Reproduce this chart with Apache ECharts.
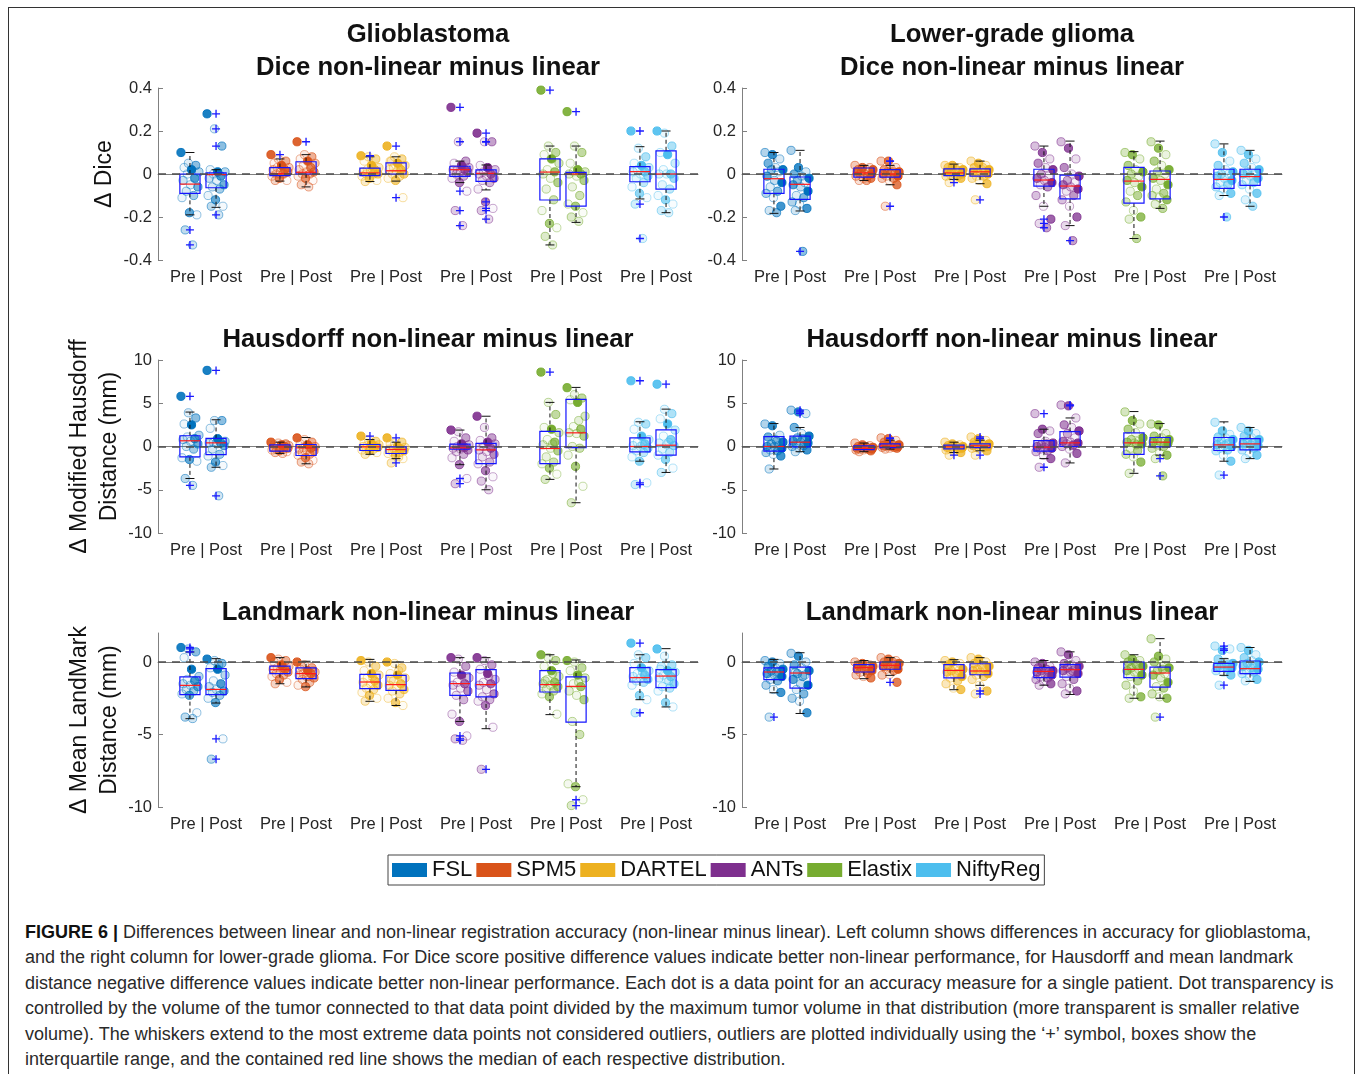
<!DOCTYPE html>
<html>
<head>
<meta charset="utf-8">
<title>Non-linear minus linear registration accuracy</title>
<script src="https://cdn.jsdelivr.net/npm/echarts@6/dist/echarts.min.js"></script>
<style>
html, body { margin: 0; padding: 0; background: #fff; overflow: hidden; }
#frame { position: absolute; left: 8px; top: 7px; width: 1347px; height: 1120px; border: 1px solid #333; box-sizing: border-box; }
#chart { position: absolute; left: 0; top: 0; width: 1357px; height: 900px; }
#caption { position: absolute; left: 25px; top: 920px; font-family: 'Liberation Sans', Arial, sans-serif; font-size: 18px; line-height: 25.4px; color: #2a2a2a; white-space: nowrap; }
#caption b { color: #111; }
</style>
</head>
<body>
<div id="frame"></div>
<div id="chart"></div>
<div id="caption">
<b>FIGURE 6 |</b> Differences between linear and non-linear registration accuracy (non-linear minus linear). Left column shows differences in accuracy for glioblastoma,<br>
and the right column for lower-grade glioma. For Dice score positive difference values indicate better non-linear performance, for Hausdorff and mean landmark<br>
distance negative difference values indicate better non-linear performance. Each dot is a data point for an accuracy measure for a single patient. Dot transparency is<br>
controlled by the volume of the tumor connected to that data point divided by the maximum tumor volume in that distribution (more transparent is smaller relative<br>
volume). The whiskers extend to the most extreme data points not considered outliers, outliers are plotted individually using the ‘+’ symbol, boxes show the<br>
interquartile range, and the contained red line shows the median of each respective distribution.
</div>
<script>
const methods = ['FSL', 'SPM5', 'DARTEL', 'ANTs', 'Elastix', 'NiftyReg']
const methodColors = ['#0072BD', '#D95319', '#EDB120', '#7E2F8E', '#77AC30', '#4DBEEE']
const groupLabels = ['Pre | Post', 'Pre | Post', 'Pre | Post', 'Pre | Post', 'Pre | Post', 'Pre | Post']

// relative tumour volume per patient (controls dot transparency)
const gbmVolume = [0.9, 0.12, 0.45, 0.06, 1.0, 0.28, 0.05, 0.7, 0.2, 0.1, 0.55, 0.15, 0.35, 0.08, 0.62, 0.04, 0.25, 0.18]
const lggVolume = [0.3, 0.8, 0.15, 0.55, 0.1, 0.95, 0.4, 0.07, 0.65, 0.22, 1.0, 0.12, 0.5, 0.3, 0.05, 0.75, 0.18, 0.45]

// box stats [lower whisker, q1, median, q3, upper whisker], rows: FSL pre, FSL post, SPM5 pre, ...
const gbmDiceBox = [
  [-0.19, -0.09, -0.047, 0.0, 0.1], [-0.155, -0.064, -0.003, 0.005, 0.02],
  [-0.033, -0.008, 0.002, 0.03, 0.07], [-0.06, 0.0, 0.008, 0.057, 0.09],
  [-0.035, -0.008, 0.005, 0.027, 0.08], [-0.033, 0.0, 0.015, 0.052, 0.08],
  [-0.04, -0.011, 0.02, 0.036, 0.06], [-0.074, -0.034, 0.003, 0.019, 0.042],
  [-0.33, -0.121, 0.009, 0.07, 0.13], [-0.225, -0.149, 0.0, 0.008, 0.13],
  [-0.116, -0.036, 0.011, 0.034, 0.127], [-0.18, -0.07, 0.0, 0.108, 0.2]
]
const gbmDicePts = [
  [0.1, 0.05, 0.04, 0.03, 0.02, 0.01, 0.0, -0.02, -0.03, -0.05, -0.06, -0.08, -0.1, -0.11, -0.18, -0.19, -0.26, -0.33],
  [0.28, 0.21, 0.13, 0.02, 0.01, 0.01, 0.0, -0.01, -0.02, -0.03, -0.05, -0.06, -0.07, -0.1, -0.12, -0.15, -0.15, -0.19],
  [0.09, 0.07, 0.06, 0.05, 0.04, 0.03, 0.03, 0.02, 0.02, 0.01, 0.01, 0.0, 0.0, -0.01, -0.02, -0.03, -0.03, 0.0],
  [0.15, 0.09, 0.08, 0.07, 0.06, 0.05, 0.04, 0.03, 0.02, 0.01, 0.01, 0.0, 0.0, -0.01, -0.02, -0.03, -0.05, -0.06],
  [0.085, 0.08, 0.07, 0.06, 0.04, 0.03, 0.02, 0.02, 0.01, 0.01, 0.0, 0.0, 0.0, -0.01, -0.02, -0.03, -0.035, 0.02],
  [0.13, 0.08, 0.07, 0.06, 0.05, 0.04, 0.03, 0.02, 0.02, 0.01, 0.0, 0.0, -0.01, -0.02, -0.03, -0.11, 0.06, 0.03],
  [0.31, 0.15, 0.06, 0.05, 0.04, 0.03, 0.02, 0.02, 0.02, 0.01, 0.01, 0.0, -0.01, -0.02, -0.04, -0.08, -0.17, -0.24],
  [0.19, 0.15, 0.15, 0.04, 0.03, 0.02, 0.01, 0.0, 0.0, -0.01, -0.02, -0.03, -0.04, -0.07, -0.13, -0.16, -0.17, -0.21],
  [0.39, 0.13, 0.1, 0.09, 0.07, 0.05, 0.02, 0.01, 0.0, -0.02, -0.04, -0.07, -0.12, -0.17, -0.23, -0.25, -0.29, -0.33],
  [0.29, 0.13, 0.1, 0.05, 0.02, 0.01, 0.01, 0.0, 0.0, -0.01, -0.03, -0.06, -0.1, -0.14, -0.15, -0.18, -0.2, -0.22],
  [0.2, 0.12, 0.08, 0.05, 0.04, 0.03, 0.02, 0.01, 0.01, 0.0, -0.01, -0.02, -0.04, -0.06, -0.09, -0.11, -0.14, -0.3],
  [0.2, 0.19, 0.13, 0.1, 0.09, 0.05, 0.02, 0.0, 0.0, 0.0, -0.02, -0.05, -0.07, -0.1, -0.12, -0.14, -0.17, -0.18]
]

const lggDiceBox = [
  [-0.183, -0.09, -0.022, 0.022, 0.1], [-0.172, -0.118, -0.048, -0.014, 0.11],
  [-0.03, -0.015, 0.005, 0.028, 0.04], [-0.05, -0.015, 0.0, 0.02, 0.04],
  [-0.025, -0.008, 0.005, 0.024, 0.046], [-0.045, -0.01, 0.01, 0.024, 0.06],
  [-0.15, -0.056, -0.028, 0.022, 0.13], [-0.24, -0.116, -0.056, -0.005, 0.153],
  [-0.3, -0.135, -0.033, 0.031, 0.104], [-0.16, -0.116, -0.025, 0.014, 0.153],
  [-0.1, -0.067, -0.025, 0.022, 0.14], [-0.15, -0.053, -0.012, 0.022, 0.11]
]
const lggDicePts = [
  [0.1, 0.09, 0.07, 0.05, 0.03, 0.02, 0.02, 0.01, -0.01, -0.03, -0.04, -0.06, -0.08, -0.09, -0.11, -0.15, -0.17, -0.18],
  [0.11, 0.03, 0.01, 0.0, -0.01, -0.02, -0.03, -0.04, -0.05, -0.06, -0.08, -0.1, -0.11, -0.13, -0.14, -0.16, -0.17, -0.36],
  [0.04, 0.03, 0.03, 0.02, 0.02, 0.02, 0.01, 0.01, 0.01, 0.0, 0.0, 0.0, -0.01, -0.01, -0.02, -0.02, -0.03, -0.03],
  [0.06, 0.06, 0.03, 0.02, 0.02, 0.01, 0.01, 0.0, 0.0, 0.0, -0.01, -0.01, -0.02, -0.02, -0.03, -0.05, -0.15, 0.01],
  [0.04, 0.04, 0.03, 0.03, 0.02, 0.02, 0.01, 0.01, 0.01, 0.0, 0.0, 0.0, -0.01, -0.01, -0.02, -0.02, -0.04, 0.02],
  [0.06, 0.05, 0.04, 0.03, 0.02, 0.02, 0.01, 0.01, 0.01, 0.0, 0.0, -0.01, -0.01, -0.02, -0.03, -0.045, -0.12, 0.03],
  [0.13, 0.1, 0.07, 0.05, 0.03, 0.02, 0.0, -0.01, -0.02, -0.03, -0.04, -0.05, -0.06, -0.1, -0.15, -0.21, -0.23, -0.25],
  [0.15, 0.12, 0.07, 0.03, 0.0, -0.01, -0.03, -0.04, -0.05, -0.06, -0.07, -0.08, -0.1, -0.12, -0.15, -0.2, -0.24, -0.31],
  [0.1, 0.09, 0.07, 0.04, 0.02, 0.01, 0.0, -0.01, -0.03, -0.04, -0.06, -0.08, -0.1, -0.13, -0.17, -0.2, -0.21, -0.3],
  [0.15, 0.12, 0.09, 0.06, 0.04, 0.02, 0.01, 0.0, -0.02, -0.03, -0.05, -0.07, -0.09, -0.1, -0.11, -0.12, -0.14, -0.16],
  [0.14, 0.1, 0.06, 0.04, 0.02, 0.01, 0.0, 0.0, -0.01, -0.02, -0.03, -0.04, -0.05, -0.06, -0.07, -0.09, -0.1, -0.2],
  [0.11, 0.09, 0.07, 0.05, 0.03, 0.02, 0.01, 0.0, 0.0, -0.01, -0.02, -0.03, -0.04, -0.05, -0.07, -0.09, -0.12, -0.15]
]

const gbmHausBox = [
  [-3.7, -1.2, 0.66, 1.24, 3.98], [-2.4, -0.93, 0.42, 0.93, 3.09],
  [-0.8, -0.54, -0.04, 0.19, 0.5], [-2.0, -1.04, -0.15, 0.23, 1.04],
  [-0.9, -0.46, -0.04, 0.23, 0.8], [-1.4, -0.81, -0.35, -0.04, 0.5],
  [-2.1, -0.31, -0.15, 0.27, 1.9], [-5.0, -1.97, -0.39, 0.35, 3.5],
  [-3.8, -1.97, -0.23, 1.74, 5.1], [-6.5, -0.12, 1.58, 5.44, 6.83],
  [-1.7, -0.62, 0.0, 1.0, 2.86], [-3.0, -1.0, 0.15, 1.93, 4.32]
]
const gbmHausPts = [
  [5.8, 3.9, 3.3, 2.6, 2.5, 1.3, 1.1, 0.9, 0.8, 0.6, 0.3, 0.0, -0.3, -1.3, -1.5, -1.7, -3.7, -4.5],
  [8.8, 3.0, 3.0, 2.1, 0.9, 0.6, 0.5, 0.4, 0.4, 0.3, 0.1, -0.3, -0.9, -1.1, -1.8, -2.2, -2.4, -5.7],
  [0.5, 0.4, 0.3, 0.2, 0.2, 0.1, 0.0, 0.0, -0.1, -0.1, -0.2, -0.3, -0.3, -0.4, -0.5, -0.6, -0.7, -0.8],
  [1.0, 0.8, 0.5, 0.3, 0.2, 0.0, -0.1, -0.2, -0.3, -0.4, -0.5, -0.7, -0.9, -1.0, -1.3, -1.6, -1.8, -2.0],
  [1.2, 0.8, 0.6, 0.4, 0.3, 0.2, 0.1, 0.0, 0.0, -0.1, -0.1, -0.2, -0.3, -0.4, -0.5, -0.7, -0.9, 0.1],
  [1.0, 0.4, 0.5, 0.3, 0.0, -0.1, -0.2, -0.3, -0.3, -0.4, -0.5, -0.6, -0.7, -0.8, -1.0, -1.4, -1.9, -1.2],
  [1.9, 1.7, 1.0, 0.6, 0.3, 0.2, 0.0, -0.1, -0.2, -0.3, -0.4, -0.6, -0.9, -1.3, -2.1, -3.7, -4.3, -0.1],
  [3.5, 2.2, 1.0, 0.7, 0.5, 0.3, 0.0, -0.2, -0.4, -0.6, -0.9, -1.2, -1.8, -2.0, -2.8, -3.5, -4.0, -5.0],
  [8.6, 5.1, 3.7, 2.2, 2.0, 1.6, 0.8, 0.5, 0.2, -0.2, -0.5, -1.2, -1.8, -2.0, -2.5, -3.2, -3.8, 0.3],
  [6.8, 6.0, 5.6, 5.4, 5.1, 3.5, 2.3, 2.0, 1.6, 1.5, 1.2, 0.0, -0.2, -1.0, -2.3, -4.6, -6.5, 3.0],
  [7.6, 2.8, 2.6, 2.0, 1.2, 0.8, 0.5, 0.3, 0.1, 0.0, -0.2, -0.5, -0.7, -1.2, -1.7, -4.2, -4.4, 0.2],
  [7.2, 4.3, 3.8, 3.2, 2.6, 1.9, 1.2, 0.8, 0.4, 0.2, 0.1, -0.3, -0.7, -1.0, -1.5, -2.5, -3.0, 0.5]
]

const lggHausBox = [
  [-2.6, -0.54, 0.0, 1.15, 2.65], [-0.6, -0.04, 0.5, 1.19, 2.2],
  [-0.6, -0.35, -0.2, 0.08, 0.4], [-0.3, -0.12, 0.04, 0.3, 0.73],
  [-0.7, -0.27, -0.04, 0.15, 0.5], [-0.5, -0.12, 0.08, 0.31, 0.73],
  [-1.4, -0.54, -0.08, 0.69, 2.0], [-1.9, 0.0, 0.42, 1.73, 3.3],
  [-3.1, -0.92, 0.42, 1.58, 4.04], [-1.0, -0.04, 0.5, 1.04, 2.65],
  [-1.7, -0.46, 0.19, 1.04, 2.85], [-1.4, -0.38, 0.3, 0.92, 2.2]
]
const lggHausPts = [
  [2.6, 2.4, 1.3, 1.1, 0.8, 0.5, 0.3, 0.1, 0.0, 0.0, -0.2, -0.4, -0.5, -0.7, -0.9, -1.1, -2.6, 0.6],
  [4.2, 4.0, 3.8, 2.2, 1.5, 1.2, 1.0, 0.8, 0.6, 0.5, 0.4, 0.3, 0.1, 0.0, -0.2, -0.4, -0.6, 0.9],
  [0.4, 0.2, 0.1, 0.0, 0.0, -0.1, -0.1, -0.2, -0.2, -0.2, -0.3, -0.3, -0.3, -0.4, -0.4, -0.5, -0.6, -0.1],
  [1.0, 0.9, 0.7, 0.5, 0.3, 0.2, 0.2, 0.1, 0.1, 0.0, 0.0, 0.0, -0.1, -0.1, -0.2, -0.2, -0.3, 0.1],
  [0.5, 0.3, 0.2, 0.1, 0.1, 0.0, 0.0, -0.1, -0.1, -0.2, -0.2, -0.3, -0.3, -0.4, -0.5, -0.7, -1.0, 0.0],
  [1.1, 0.9, 0.7, 0.5, 0.4, 0.3, 0.2, 0.1, 0.1, 0.0, 0.0, -0.1, -0.1, -0.2, -0.3, -0.5, -1.0, 0.2],
  [3.8, 2.0, 1.8, 1.5, 0.6, 0.4, 0.2, 0.1, 0.0, -0.1, -0.2, -0.3, -0.5, -0.6, -1.0, -1.4, -2.4, 0.3],
  [4.8, 4.7, 3.3, 2.5, 2.2, 1.8, 1.5, 1.0, 0.6, 0.5, 0.4, 0.3, 0.2, 0.0, -0.3, -0.8, -1.9, 0.1],
  [4.0, 3.0, 2.6, 2.0, 1.6, 1.0, 0.8, 0.6, 0.5, 0.4, 0.3, -0.2, -0.5, -0.9, -1.2, -1.8, -3.1, 0.2],
  [2.6, 2.5, 1.5, 1.2, 1.0, 0.8, 0.7, 0.6, 0.5, 0.5, 0.4, 0.2, 0.0, -0.2, -0.8, -1.0, -1.4, -3.4],
  [2.8, 1.8, 1.4, 1.1, 1.0, 0.8, 0.6, 0.4, 0.2, 0.1, 0.0, -0.2, -0.4, -0.5, -1.0, -1.7, -3.3, 0.3],
  [2.2, 1.8, 1.5, 1.2, 1.0, 0.8, 0.6, 0.5, 0.3, 0.2, 0.1, 0.0, -0.2, -0.4, -0.8, -1.0, -1.4, 0.4]
]

const gbmLandBox = [
  [-3.91, -2.25, -1.61, -1.03, 0.69], [-2.83, -2.25, -1.89, -0.46, 0.23],
  [-1.5, -0.8, -0.53, -0.28, 0.3], [-1.72, -1.15, -0.8, -0.41, 0.05],
  [-2.71, -1.84, -1.38, -0.85, 0.18], [-3.0, -1.95, -1.56, -0.92, 0.0],
  [-4.1, -2.3, -1.49, -0.76, 0.3], [-4.6, -2.41, -1.56, -0.53, 0.3],
  [-3.63, -2.07, -1.56, -0.6, 0.5], [-8.6, -4.14, -1.68, -1.03, 0.14],
  [-2.6, -1.38, -1.08, -0.39, 0.5], [-3.1, -1.77, -0.97, -0.53, 0.92]
]
const gbmLandPts = [
  [1.0, 0.9, 0.7, 0.3, -0.5, -1.0, -1.2, -1.3, -1.5, -1.6, -1.7, -1.9, -2.0, -2.2, -2.3, -3.5, -3.8, -3.9],
  [0.2, 0.1, -0.1, -0.4, -0.5, -0.9, -1.3, -1.5, -1.7, -1.9, -2.0, -2.1, -2.3, -2.5, -2.8, -5.3, -6.7, -0.2],
  [0.3, 0.2, 0.1, 0.0, -0.2, -0.3, -0.4, -0.5, -0.5, -0.6, -0.7, -0.8, -0.9, -1.0, -1.2, -1.4, -1.5, -0.4],
  [0.0, -0.2, -0.4, -0.5, -0.6, -0.7, -0.8, -0.8, -0.9, -1.0, -1.1, -1.2, -1.4, -1.6, -1.7, -0.6, -0.3, -1.0],
  [0.1, 0.0, -0.3, -0.6, -0.8, -0.9, -1.1, -1.3, -1.4, -1.5, -1.6, -1.8, -1.9, -2.1, -2.3, -2.5, -2.7, -1.0],
  [0.0, -0.1, -0.4, -0.8, -0.9, -1.1, -1.3, -1.5, -1.6, -1.7, -1.9, -2.0, -2.2, -2.5, -2.8, -3.0, -1.2, -0.6],
  [0.3, 0.2, -0.3, -0.7, -0.9, -1.1, -1.4, -1.5, -1.6, -1.8, -2.0, -2.3, -2.6, -3.6, -4.1, -5.1, -5.3, -5.4],
  [0.3, 0.1, -0.2, -0.5, -0.8, -1.2, -1.4, -1.5, -1.6, -1.9, -2.2, -2.4, -2.6, -2.7, -3.0, -4.5, -7.4, -1.0],
  [0.5, 0.3, 0.1, -0.3, -0.6, -1.0, -1.2, -1.4, -1.5, -1.6, -1.7, -1.9, -2.0, -2.2, -2.4, -3.6, -1.3, -0.8],
  [0.1, 0.0, -0.4, -0.6, -0.9, -1.1, -1.5, -1.7, -2.0, -2.3, -2.6, -4.1, -5.0, -8.4, -8.6, -9.5, -9.9, -1.4],
  [1.3, 0.5, 0.3, -0.1, -0.4, -0.6, -0.8, -0.9, -1.0, -1.1, -1.2, -1.3, -1.4, -1.6, -2.3, -2.6, -3.5, -0.7],
  [0.9, 0.4, -0.2, -0.5, -0.6, -0.7, -0.9, -1.0, -1.1, -1.2, -1.5, -1.7, -1.8, -2.0, -2.8, -3.1, -0.3, -1.3]
]

const lggLandBox = [
  [-2.12, -1.22, -0.69, -0.41, 0.18], [-3.55, -1.8, -0.76, -0.35, 0.64],
  [-1.15, -0.69, -0.39, -0.18, 0.1], [-0.92, -0.5, -0.23, 0.0, 0.3],
  [-1.91, -1.1, -0.58, -0.18, 0.16], [-1.61, -0.88, -0.62, -0.12, 0.3],
  [-1.6, -1.08, -0.65, -0.39, 0.1], [-2.24, -1.04, -0.53, -0.18, 0.7],
  [-2.5, -1.08, -0.51, 0.0, 0.5], [-2.5, -1.73, -0.76, -0.35, 1.61],
  [-0.92, -0.65, -0.35, -0.09, 0.23], [-1.34, -0.8, -0.46, 0.07, 1.0]
]
const lggLandPts = [
  [0.1, 0.0, -0.1, -0.3, -0.4, -0.5, -0.6, -0.7, -0.8, -0.9, -1.0, -1.2, -1.3, -1.6, -1.9, -2.1, -3.8, -0.7],
  [0.6, 0.4, 0.0, -0.2, -0.4, -0.6, -0.8, -0.9, -1.2, -1.5, -1.6, -1.9, -2.2, -2.5, -2.7, -3.5, -0.7, -1.0],
  [0.0, -0.1, -0.2, -0.2, -0.3, -0.3, -0.4, -0.4, -0.5, -0.5, -0.6, -0.7, -0.8, -0.9, -1.0, -1.1, -0.3, -0.6],
  [0.3, 0.2, 0.1, 0.0, -0.1, -0.1, -0.2, -0.2, -0.3, -0.4, -0.5, -0.5, -0.6, -0.9, -0.85, -1.4, -0.3, 0.0],
  [0.1, 0.0, -0.1, -0.2, -0.4, -0.5, -0.6, -0.6, -0.7, -0.9, -1.0, -1.1, -1.3, -1.5, -1.8, -1.9, -0.3, -0.8],
  [0.3, 0.2, 0.0, -0.1, -0.2, -0.3, -0.5, -0.6, -0.6, -0.7, -0.8, -0.9, -1.0, -1.2, -1.6, -2.0, -2.2, -0.4],
  [0.0, -0.1, -0.3, -0.4, -0.5, -0.6, -0.6, -0.7, -0.7, -0.8, -0.9, -1.0, -1.1, -1.2, -1.3, -1.5, -1.6, -0.5],
  [0.7, 0.5, 0.1, -0.1, -0.2, -0.3, -0.4, -0.5, -0.6, -0.7, -0.8, -1.0, -1.2, -1.5, -1.8, -2.0, -2.2, -0.6],
  [0.5, 0.2, 0.1, 0.0, -0.1, -0.3, -0.4, -0.5, -0.6, -0.7, -0.9, -1.0, -1.3, -1.6, -2.0, -2.4, -2.5, -0.2],
  [1.6, 0.4, 0.2, 0.0, -0.3, -0.4, -0.6, -0.8, -0.9, -1.1, -1.4, -1.7, -1.8, -2.2, -2.4, -2.5, -3.8, -0.5],
  [1.1, 0.8, 0.9, 0.2, 0.0, -0.1, -0.2, -0.2, -0.3, -0.3, -0.4, -0.4, -0.5, -0.6, -0.7, -0.9, -1.6, -0.2],
  [1.0, 0.8, 0.5, 0.3, 0.1, 0.0, -0.1, -0.2, -0.3, -0.4, -0.5, -0.6, -0.7, -0.8, -1.0, -1.2, -1.3, -0.4]
]

const panels = [
  { box: gbmDiceBox, pts: gbmDicePts, vol: gbmVolume, row: 0, col: 0 },
  { box: lggDiceBox, pts: lggDicePts, vol: lggVolume, row: 0, col: 1 },
  { box: gbmHausBox, pts: gbmHausPts, vol: gbmVolume, row: 1, col: 0 },
  { box: lggHausBox, pts: lggHausPts, vol: lggVolume, row: 1, col: 1 },
  { box: gbmLandBox, pts: gbmLandPts, vol: gbmVolume, row: 2, col: 0 },
  { box: lggLandBox, pts: lggLandPts, vol: lggVolume, row: 2, col: 1 }
]
const rowAxes = [
  { min: -0.4, max: 0.4, interval: 0.2, name: 'Δ Dice', nameGap: 34 },
  { min: -10, max: 10, interval: 5, name: 'Δ Modified Hausdorff\nDistance (mm)', nameGap: 25 },
  { min: -10, max: 2, interval: 5, name: 'Δ Mean LandMark\nDistance (mm)', nameGap: 25, ticks: [-10, -5, 0] }
]
const rowTitles = [
  ['Glioblastoma\nDice non-linear minus linear', 'Lower-grade glioma\nDice non-linear minus linear'],
  ['Hausdorff non-linear minus linear', 'Hausdorff non-linear minus linear'],
  ['Landmark non-linear minus linear', 'Landmark non-linear minus linear']
]

const colLeft = [158, 742]
const plotWidth = 540
const rowTop = [88, 360, 633]
const rowHeight = [172, 173, 174]
const titleTop = [18, 323, 596]
const FONT = "'Liberation Sans', Arial, sans-serif"

function rgba (hex, a) {
  const n = parseInt(hex.slice(1), 16)
  return 'rgba(' + (n >> 16) + ',' + ((n >> 8) & 255) + ',' + (n & 255) + ',' + a + ')'
}

// x position of a pre/post box inside its method band
function boxX (api, g, side) {
  const band = api.size([1, 0])[0]
  return api.coord([g, 0])[0] + (side ? 1 : -1) * 0.145 * band
}

function renderPoint (params, api) {
  const g = api.value(0), side = api.value(1), p = api.value(3), vol = api.value(4)
  const band = api.size([1, 0])[0]
  const y = api.coord([g, api.value(2)])[1]
  const jit = ((p * 7) % 18) / 17 - 0.5
  const x = boxX(api, g, side) + jit * 0.2 * band
  const color = api.visual('color')
  return {
    type: 'circle',
    shape: { cx: x, cy: y, r: 4.1 },
    style: { fill: rgba(color, vol), stroke: rgba(color, 0.4 + 0.6 * vol), lineWidth: 1 }
  }
}

function renderBox (params, api) {
  const g = api.value(0), side = api.value(1)
  const band = api.size([1, 0])[0]
  const cx = boxX(api, g, side)
  const half = 0.112 * band, cap = 0.05 * band
  const y = i => api.coord([g, api.value(i)])[1]
  const lo = y(2), q1 = y(3), med = y(4), q3 = y(5), hi = y(6)
  const dash = { stroke: '#111', lineWidth: 1, lineDash: [4, 3] }
  const solid = { stroke: '#111', lineWidth: 1 }
  return {
    type: 'group',
    children: [
      { type: 'line', shape: { x1: cx, y1: q3, x2: cx, y2: hi }, style: dash },
      { type: 'line', shape: { x1: cx, y1: q1, x2: cx, y2: lo }, style: dash },
      { type: 'line', shape: { x1: cx - cap, y1: hi, x2: cx + cap, y2: hi }, style: solid },
      { type: 'line', shape: { x1: cx - cap, y1: lo, x2: cx + cap, y2: lo }, style: solid },
      { type: 'rect', shape: { x: cx - half, y: q3, width: 2 * half, height: q1 - q3 }, style: { fill: 'none', stroke: '#1414ff', lineWidth: 1.2 } },
      { type: 'line', shape: { x1: cx - half, y1: med, x2: cx + half, y2: med }, style: { stroke: '#ff1a1a', lineWidth: 1.2 } }
    ]
  }
}

function renderPlus (params, api) {
  const g = api.value(0), side = api.value(1)
  const x = boxX(api, g, side)
  const y = api.coord([g, api.value(2)])[1]
  const s = 4
  return {
    type: 'path',
    shape: { pathData: 'M' + (x - s) + ' ' + y + 'L' + (x + s) + ' ' + y + 'M' + x + ' ' + (y - s) + 'L' + x + ' ' + (y + s) },
    style: { stroke: '#1a1aff', lineWidth: 1.3, fill: null }
  }
}

const grid = [], xAxis = [], yAxis = [], series = [], title = []

panels.forEach((pn, pi) => {
  const ax = rowAxes[pn.row]
  grid.push({ left: colLeft[pn.col], top: rowTop[pn.row], width: plotWidth, height: rowHeight[pn.row] })
  xAxis.push({
    type: 'category', gridIndex: pi, data: groupLabels, boundaryGap: true,
    axisLine: { lineStyle: { color: '#808080', width: 1 } },
    axisTick: { alignWithLabel: true, inside: true, length: 5, lineStyle: { color: '#808080' } },
    axisLabel: { interval: 0, fontFamily: FONT, fontSize: 16.5, color: '#262626', margin: 9, padding: [0, 0, 0, 6] }
  })
  yAxis.push({
    type: 'value', gridIndex: pi, min: ax.min, max: ax.max, interval: ax.interval,
    name: pn.col === 0 ? ax.name : '', nameLocation: 'middle', nameRotate: 90, nameGap: ax.nameGap,
    nameTextStyle: { fontFamily: FONT, fontSize: 23, color: '#111', lineHeight: 30 },
    axisLine: { show: true, lineStyle: { color: '#808080', width: 1 } },
    axisTick: { show: true, inside: true, length: 5, lineStyle: { color: '#808080' }, customValues: ax.ticks },
    axisLabel: { fontFamily: FONT, fontSize: 16.5, color: '#262626', margin: 6, customValues: ax.ticks },
    splitLine: { show: false }
  })
  title.push({
    text: rowTitles[pn.row][pn.col],
    left: colLeft[pn.col] + plotWidth / 2, top: titleTop[pn.row], textAlign: 'center', padding: 0,
    textStyle: { fontFamily: FONT, fontSize: 25.7, fontWeight: 'bold', color: '#111', lineHeight: 33 }
  })

  const boxData = [], plusData = []
  pn.box.forEach((b, k) => {
    const g = Math.floor(k / 2), side = k % 2
    boxData.push([g, side].concat(b))
    pn.pts[k].forEach(v => {
      if (v > b[4] + 1e-9 || v < b[0] - 1e-9) plusData.push([g, side, v])
    })
  })

  methods.forEach((m, mi) => {
    const data = []
    for (let side = 0; side < 2; side++) {
      pn.pts[mi * 2 + side].forEach((v, i) => data.push([mi, side, v, i, pn.vol[i % pn.vol.length]]))
    }
    series.push({
      type: 'custom', name: m, xAxisIndex: pi, yAxisIndex: pi, z: 2,
      itemStyle: { color: methodColors[mi] }, renderItem: renderPoint, data: data, silent: true
    })
  })

  series.push({
    type: 'custom', name: 'box', xAxisIndex: pi, yAxisIndex: pi, z: 3,
    renderItem: renderBox, data: boxData, silent: true,
    markLine: {
      silent: true, symbol: 'none', label: { show: false },
      lineStyle: { color: '#4d4d4d', type: [8, 6], width: 1.5 },
      data: [{ yAxis: 0 }]
    }
  })
  series.push({
    type: 'custom', name: 'outlier', xAxisIndex: pi, yAxisIndex: pi, z: 4,
    renderItem: renderPlus, data: plusData, silent: true
  })
})

const chart = echarts.init(document.getElementById('chart'))
chart.setOption({
  animation: false,
  title: title,
  grid: grid,
  xAxis: xAxis,
  yAxis: yAxis,
  legend: {
    data: methods, left: 388, top: 855, orient: 'horizontal',
    icon: 'rect', itemWidth: 35, itemHeight: 14, itemGap: 4,
    padding: [4, 4, 4, 4], borderColor: '#444', borderWidth: 1,
    textStyle: { fontFamily: FONT, fontSize: 22, color: '#111' },
    selectedMode: false
  },
  series: series
})
</script>
</body>
</html>
